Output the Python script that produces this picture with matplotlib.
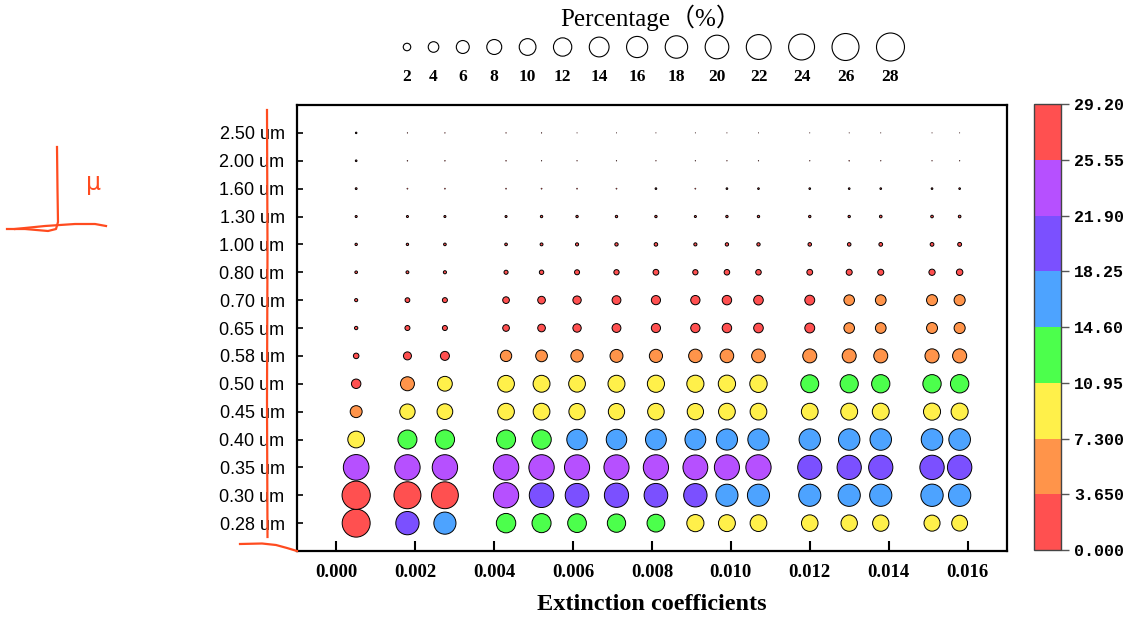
import numpy as np
import matplotlib
matplotlib.use("Agg")
import matplotlib.pyplot as plt
from matplotlib.colors import ListedColormap, BoundaryNorm
from matplotlib.cm import ScalarMappable

# --------------------------------------------------
# Data
# --------------------------------------------------
extinction = [0.0005, 0.0018, 0.00275, 0.0043, 0.0052, 0.0061, 0.0071, 0.0081,
              0.0091, 0.0099, 0.0107, 0.0120, 0.0130, 0.0138, 0.0151, 0.0158]

wavelengths = ["0.28 um", "0.30 um", "0.35 um", "0.40 um", "0.45 um", "0.50 um",
               "0.58 um", "0.65 um", "0.70 um", "0.80 um", "1.00 um", "1.30 um",
               "1.60 um", "2.00 um", "2.50 um"]

# percentage (%) per wavelength row (bottom to top), one value per extinction column
percent = [
    [28.0, 19.4, 17.5, 13.5, 13.0, 12.5, 12.0, 11.3, 10.5, 10.2, 10.0, 9.8, 9.6, 9.5, 9.2, 9.0],
    [28.5, 26.0, 25.8, 22.8, 21.5, 20.0, 21.0, 20.0, 19.5, 17.5, 17.5, 17.5, 17.6, 17.6, 17.8, 17.8],
    [23.5, 23.0, 23.0, 23.2, 23.0, 22.5, 22.5, 22.8, 22.0, 22.5, 22.8, 20.8, 21.0, 21.0, 21.2, 21.3],
    [10.0, 12.9, 13.3, 13.0, 13.5, 15.0, 15.0, 15.5, 15.5, 16.0, 16.2, 16.3, 16.4, 16.5, 16.6, 16.7],
    [5.1, 8.4, 8.8, 9.9, 10.0, 9.5, 9.5, 9.8, 9.5, 10.0, 10.0, 10.0, 10.2, 10.2, 10.4, 10.4],
    [3.2, 7.0, 7.8, 10.0, 10.2, 10.0, 10.3, 10.5, 10.5, 10.7, 10.8, 11.5, 11.8, 11.9, 12.0, 12.1],
    [1.1, 2.3, 2.9, 4.6, 4.9, 5.5, 6.0, 6.2, 6.5, 6.6, 6.7, 7.0, 7.0, 7.0, 7.1, 7.1],
    [0.4, 0.9, 0.9, 1.6, 2.1, 2.5, 2.8, 3.0, 3.1, 3.2, 3.3, 3.5, 4.0, 4.1, 4.3, 4.4],
    [0.35, 0.8, 0.9, 1.6, 2.1, 2.5, 2.8, 3.0, 3.1, 3.2, 3.3, 3.5, 4.0, 4.1, 4.3, 4.4],
    [0.25, 0.3, 0.35, 0.6, 0.7, 0.9, 1.0, 1.2, 1.0, 1.1, 1.1, 1.2, 1.3, 1.3, 1.4, 1.5],
    [0.2, 0.2, 0.25, 0.25, 0.3, 0.35, 0.4, 0.45, 0.35, 0.4, 0.4, 0.45, 0.45, 0.5, 0.5, 0.55],
    [0.15, 0.15, 0.15, 0.15, 0.2, 0.2, 0.2, 0.2, 0.15, 0.2, 0.2, 0.2, 0.2, 0.25, 0.25, 0.25],
    [0.12, 0.05, 0.05, 0.05, 0.05, 0.05, 0.05, 0.1, 0.05, 0.1, 0.1, 0.1, 0.1, 0.1, 0.1, 0.1],
    [0.1, 0.03, 0.03, 0.03, 0.02, 0.02, 0.02, 0.02, 0.02, 0.02, 0.02, 0.02, 0.03, 0.02, 0.02, 0.02],
    [0.08, 0.02, 0.02, 0.02, 0.02, 0.01, 0.01, 0.01, 0.01, 0.01, 0.01, 0.01, 0.01, 0.01, 0.01, 0.01],
]

x_ticks = [0.000, 0.002, 0.004, 0.006, 0.008, 0.010, 0.012, 0.014, 0.016]
legend_sizes = [2, 4, 6, 8, 10, 12, 14, 16, 18, 20, 22, 24, 26, 28]

cbar_bounds = [0, 3.65, 7.3, 10.95, 14.6, 18.25, 21.9, 25.55, 29.2]
cbar_labels = ["0.000", "3.650", "7.300", "10.95", "14.60", "18.25", "21.90", "25.55", "29.20"]
cbar_colors = ["#ff5050", "#ff944a", "#fff04a", "#4cff4c", "#4da3ff", "#7b50ff", "#b650ff", "#ff5050"]

# --------------------------------------------------
# Setup
# --------------------------------------------------
SIZE_K = 14.5   # marker area (pt^2) per percent

cmap = ListedColormap(cbar_colors)
norm = BoundaryNorm(cbar_bounds, cmap.N)

fig = plt.figure(figsize=(11.28, 6.21), dpi=100)
ax = fig.add_axes([0.2633, 0.1127, 0.6294, 0.7182])

pct = np.array(percent)
xx, yy = np.meshgrid(extinction, np.arange(len(wavelengths)))
# the very smallest dots get a thinner edge so they fade to grey
lw = np.where(pct.ravel() < 0.08, 0.3, 0.7)
ax.scatter(xx.ravel(), yy.ravel(), s=pct.ravel() * SIZE_K, c=pct.ravel(),
           cmap=cmap, norm=norm, edgecolors="black", linewidths=lw, zorder=3)

ax.set_xlim(-0.001, 0.017)
ax.set_ylim(-1, len(wavelengths))
ax.set_xticks(x_ticks)
ax.set_xticklabels([f"{v:.3f}" for v in x_ticks], family="Liberation Serif",
                   fontweight="bold", fontsize=13.5)
ax.set_yticks(np.arange(len(wavelengths)))
ax.set_yticklabels(wavelengths, family="Liberation Sans", fontsize=13)
ax.tick_params(axis="x", direction="in", length=7, width=1.5, pad=9)
ax.tick_params(axis="y", direction="in", length=4, width=1.2, pad=9)
for sp in ax.spines.values():
    sp.set_linewidth(1.6)
ax.set_xlabel("Extinction coefficients", family="Liberation Serif",
              fontweight="bold", fontsize=17.5, labelpad=10)

# colorbar
cax = fig.add_axes([0.9167, 0.1143, 0.0239, 0.7182])
cb = fig.colorbar(ScalarMappable(norm=norm, cmap=cmap), cax=cax,
                  boundaries=cbar_bounds, ticks=cbar_bounds)
cb.ax.set_yticklabels(cbar_labels, family="Liberation Mono", fontweight="bold", fontsize=12)
cb.ax.tick_params(length=6, width=1.0, color="#555555")
cb.outline.set_linewidth(1.0)
cb.outline.set_edgecolor("#444444")

# size legend on top, drawn in figure pixel units
lax = fig.add_axes([0, 0, 1, 1], zorder=5)
lax.set_xlim(0, 1128)
lax.set_ylim(621, 0)
lax.axis("off")
lax.patch.set_alpha(0)

diam = np.sqrt(np.array(legend_sizes) * SIZE_K) * 100 / 72   # pixel diameters
gap = 17.5
lx = [407.0]
for i in range(1, len(diam)):
    lx.append(lx[-1] + gap + (diam[i - 1] + diam[i]) / 2)
lax.scatter(lx, [47] * len(lx), s=np.array(legend_sizes) * SIZE_K,
            facecolors="white", edgecolors="black", linewidths=0.8)
for x, v in zip(lx, legend_sizes):
    lax.text(x, 77, str(v), ha="center", va="center", family="Liberation Serif",
             fontweight="bold", fontsize=12.5)
lax.text(651, 18, "Percentage（%）", ha="center", va="center",
         family=["Liberation Serif", "Noto Sans CJK SC"], fontsize=18)

# red hand-drawn marks
red = "#ff4b1f"
lax.plot([267, 267.5, 267, 267.5], [110, 250, 400, 537], color=red, lw=1.6)
lax.plot([240, 262, 276, 287, 297], [544, 543.5, 545, 548, 551], color=red, lw=1.6)
lax.plot([57, 57.5, 58, 56, 48, 25, 7], [147, 190, 222, 229, 231, 229, 229], color=red, lw=1.6)
lax.plot([15, 45, 75, 95, 106], [229, 226, 224, 224, 226], color=red, lw=1.6)
lax.text(93, 183, "μ", color=red, ha="center", va="center", fontsize=17)

fig.savefig("out.png", dpi=100)
